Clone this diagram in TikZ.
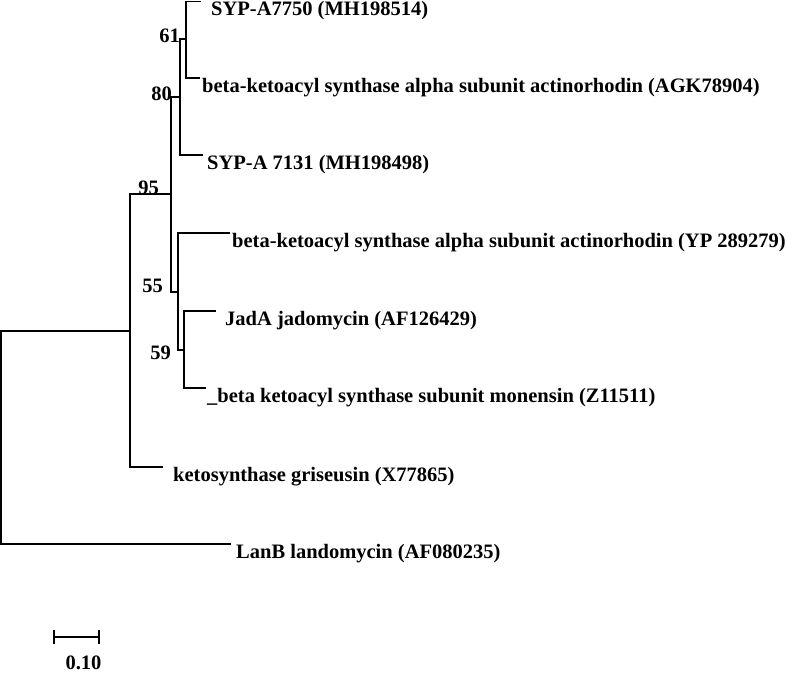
\documentclass[tikz,border=0pt]{standalone}
\usepackage{fontspec}
\setmainfont{Liberation Serif}
\tikzset{
  branch/.style={line width=1.5pt, line cap=rect},
  taxon/.style={anchor=base west, inner sep=0pt, font=\bfseries\fontsize{20.5}{24}\selectfont},
  boot/.style={anchor=base east, inner sep=0pt, font=\bfseries\fontsize{20.5}{24}\selectfont},
}
\begin{document}
\begin{tikzpicture}[x=1pt,y=-1pt]
    \useasboundingbox (0,0) rectangle (787,673);
    % inner nodes (x of the vertical line, y of the stem)
    \coordinate (root) at (1,331);
    \coordinate (ng) at (130,331);
    \coordinate (n95) at (171,194);
    \coordinate (n80) at (180,97);
    \coordinate (n61) at (186,39);
    \coordinate (n55) at (178,292);
    \coordinate (n59) at (184,350);
    % tips
    \coordinate (t1) at (200,1.5);
    \coordinate (t2) at (199,78);
    \coordinate (t3) at (202,155);
    \coordinate (t4) at (229,233);
    \coordinate (t5) at (215,311);
    \coordinate (t6) at (205,388);
    \coordinate (t7) at (162,467);
    \coordinate (t8) at (230,544);
    % branches
    \draw [branch] (ng) -- (root |- ng) -- (root |- t8) -- (t8);
    \draw [branch] (n95) -- (ng |- n95) -- (ng |- t7) -- (t7);
    \draw [branch] (n80) -- (n95 |- n80) -- (n95 |- n55) -- (n55);
    \draw [branch] (n61) -- (n80 |- n61) -- (n80 |- t3) -- (t3);
    \draw [branch] (t1) -- (n61 |- t1) -- (n61 |- t2) -- (t2);
    \draw [branch] (t4) -- (n55 |- t4) -- (n55 |- n59) -- (n59);
    \draw [branch] (t5) -- (n59 |- t5) -- (n59 |- t6) -- (t6);
    % taxa
    \node [taxon] (sypa7750) at (211,15) {SYP-A7750 (MH198514)};
    \node [taxon] (agk78904) at (202,92) {beta-ketoacyl synthase alpha subunit actinorhodin (AGK78904)};
    \node [taxon] (sypa7131) at (207,169) {SYP-A 7131 (MH198498)};
    \node [taxon] (yp289279) at (232,247) {beta-ketoacyl synthase alpha subunit actinorhodin (YP 289279)};
    \node [taxon] (jada) at (225,325) {JadA jadomycin (AF126429)};
    \node [taxon] (monensin) at (207,402) {\_beta ketoacyl synthase subunit monensin (Z11511)};
    \node [taxon] (griseusin) at (173,481) {ketosynthase griseusin (X77865)};
    \node [taxon] (lanb) at (236,558) {LanB landomycin (AF080235)};
    % bootstrap values
    \node [boot] (b61) at (180,42) {61};
    \node [boot] (b80) at (172,100) {80};
    \node [boot] (b95) at (159,194) {95};
    \node [boot] (b55) at (163,292) {55};
    \node [boot] (b59) at (171,359) {59};
    % scale bar
    \coordinate (sbl) at (54,637);
    \coordinate (sbr) at (99,637);
    \draw [line width=1.5pt] (sbl) -- (sbr);
    \draw [line width=1.5pt] ([yshift=7pt]sbl) -- ([yshift=-7pt]sbl);
    \draw [line width=1.5pt] ([yshift=7pt]sbr) -- ([yshift=-7pt]sbr);
    \node [anchor=base, inner sep=0pt, font=\bfseries\fontsize{20.5}{24}\selectfont] (scale) at (83.5,669) {0.10};
\end{tikzpicture}
\end{document}
